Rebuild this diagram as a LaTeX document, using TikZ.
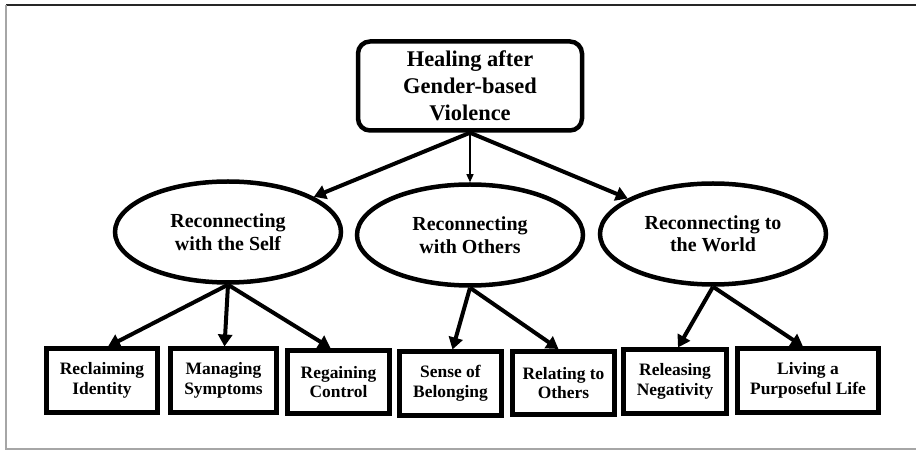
\documentclass[tikz,border=0pt]{standalone}
\usepackage{fontspec}
\setmainfont{Liberation Serif}
\usetikzlibrary{shapes.geometric,arrows.meta}

\begin{document}
\begin{tikzpicture}[x=1bp, y=-1bp,
  root/.style={draw, rounded corners=12bp, line width=4.5bp, align=center, inner sep=2bp,
               minimum width=224bp, minimum height=89bp, font=\bfseries\fontsize{22.5}{27}\selectfont},
  grp/.style={draw, ellipse, line width=4.5bp, align=center, minimum width=226bp,
              minimum height=101bp, font=\bfseries\fontsize{20}{22.5}\selectfont},
  leaf/.style={draw, line width=5bp, align=center, inner sep=2bp, minimum height=63bp,
               font=\bfseries\fontsize{17.5}{20}\selectfont},
  arr/.style={line width=4bp, -{Triangle[length=12bp,width=14bp]}},
  lnk/.style={line width=1.2bp, -{Triangle[length=8bp,width=7bp]}},
]
  \useasboundingbox (0,0) rectangle (916,451);
  % frame
  \draw[black!85, line width=1.2bp] (6,5) -- (916,5);
  \draw[black!35, line width=1.2bp] (6,5) -- (6,449) -- (916,449);

  \node[root] (heal) at (470,86) {Healing after\\Gender-based\\Violence};

  \node[grp] (self)   at (228,232) {Reconnecting\\with the Self};
  \node[grp] (others) at (470,235) {Reconnecting\\with Others};
  \node[grp] (world)  at (713,234) {Reconnecting to\\the World};

  \node[leaf, minimum width=111bp] (ident)  at (102,380.5) {Reclaiming\\Identity};
  \node[leaf, minimum width=106bp] (sympt)  at (223.5,380.5) {Managing\\Symptoms};
  \node[leaf, minimum width=102bp] (ctrl)   at (338.5,382) {Regaining\\Control};
  \node[leaf, minimum width=102bp] (belong) at (450.5,383.5) {Sense of\\Belonging};
  \node[leaf, minimum width=102bp] (relate) at (563.5,383) {Relating to\\Others};
  \node[leaf, minimum width=103bp] (neg)    at (675,381.5) {Releasing\\Negativity};
  \node[leaf, minimum width=141bp] (life)   at (808,380.5) {Living a\\Purposeful Life};

  \draw[arr] (heal.south) -- (self);
  \draw[lnk] (heal.south) -- (others);
  \draw[arr] (heal.south) -- (world);

  \draw[arr] (self.south) -- ([xshift=6bp]ident.north);
  \draw[arr] (self.south) -- ([xshift=1bp]sympt.north);
  \draw[arr] (self.south) -- ([xshift=-8bp]ctrl.north);
  \draw[arr] (others.south) -- ([xshift=2bp]belong.north);
  \draw[arr] (others.south) -- ([xshift=-5bp]relate.north);
  \draw[arr] (world.south) -- ([xshift=3bp]neg.north);
  \draw[arr] (world.south) -- ([xshift=-5bp]life.north);
\end{tikzpicture}
\end{document}
